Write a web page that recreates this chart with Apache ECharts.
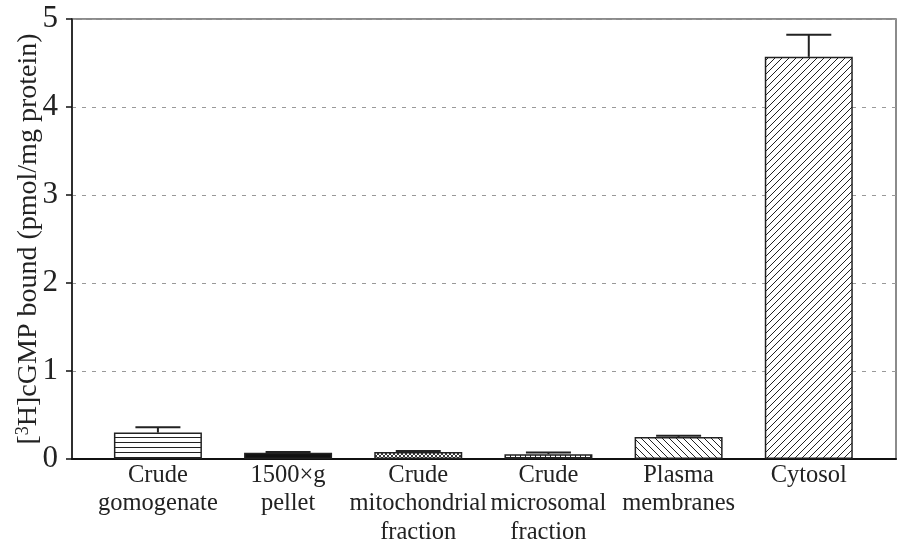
<!DOCTYPE html>
<html>
<head>
<meta charset="utf-8">
<script src="https://cdn.jsdelivr.net/npm/echarts@6/dist/echarts.min.js"></script>
<style>html,body{margin:0;padding:0;background:#fff}#c{width:898px;height:540px}</style>
</head>
<body>
<div id="c"></div>
<script>
const categories = ['Crude\ngomogenate', '1500×g\npellet', 'Crude\nmitochondrial\nfraction', 'Crude\nmicrosomal\nfraction', 'Plasma\nmembranes', 'Cytosol'];
const means = [0.30, 0.07, 0.08, 0.055, 0.25, 4.57];
const errors = [0.06, 0.01, 0.01, 0.02, 0.015, 0.25];
const yTicks = [0, 1, 2, 3, 4, 5];

function tile(w, h, draw) {
  const c = document.createElement('canvas');
  c.width = w; c.height = h;
  const g = c.getContext('2d');
  g.fillStyle = '#fff'; g.fillRect(0, 0, w, h);
  g.strokeStyle = '#222'; g.lineWidth = 1;
  draw(g, w, h);
  return { image: c, repeat: 'repeat' };
}
function ln(g, a, b, c, d) { g.beginPath(); g.moveTo(a, b); g.lineTo(c, d); g.stroke(); }
const patterns = [
  tile(8, 5, (g, w, h) => ln(g, 0, 2.5, w, 2.5)),
  '#111',
  tile(4, 4, (g, w, h) => { g.lineWidth = 0.9; ln(g, -1, -1, 5, 5); ln(g, -1, 5, 5, -1); }),
  tile(5, 4, (g, w, h) => { ln(g, 0.5, 0, 0.5, h); ln(g, 0, 1.5, w, 1.5); }),
  tile(7, 7, (g, w, h) => { ln(g, -1, -1, 8, 8); ln(g, -1, 6, 1, 8); ln(g, 6, -1, 8, 1); }),
  tile(7, 7, (g, w, h) => { ln(g, -1, 8, 8, -1); ln(g, -1, 1, 1, -1); ln(g, 6, 8, 8, 6); })
];

const chart = echarts.init(document.getElementById('c'), null, { renderer: 'canvas' });
const font = 'Liberation Serif';
chart.setOption({
  animation: false,
  grid: { left: 72, right: 2, top: 19, bottom: 81, containLabel: false, outerBoundsMode: 'none', show: true, borderColor: '#666', borderWidth: 1.5, backgroundColor: 'transparent' },
  xAxis: {
    type: 'value', min: -0.66, max: 5.67,
    axisLine: { show: true, onZero: false, lineStyle: { color: '#111', width: 2 } },
    axisTick: { show: false },
    splitLine: { show: false },
    axisLabel: {
      customValues: categories.map((c, i) => i),
      formatter: v => categories[Math.round(v)] || '',
      fontFamily: font, fontSize: 24.5, lineHeight: 28.5, color: '#222', margin: 2,
      showMinLabel: true, showMaxLabel: true, hideOverlap: false
    }
  },
  yAxis: {
    type: 'value', min: 0, max: 5, interval: 1,
    axisLine: { show: true, onZero: false, lineStyle: { color: '#111', width: 1.5 } },
    axisTick: { show: true, length: 6, lineStyle: { color: '#111', width: 1.5 } },
    splitLine: { show: true, lineStyle: { color: '#999', type: [4, 6], width: 1 } },
    axisLabel: { fontFamily: font, fontSize: 31, color: '#222', margin: 14, formatter: v => String(v) },
    name: '[{sup|3}H]cGMP bound (pmol/mg protein)',
    nameLocation: 'middle', nameGap: 28, nameRotate: 90, nameMoveOverlap: false,
    nameTextStyle: {
      fontFamily: font, fontSize: 28, color: '#222', lineHeight: 30,
      rich: { sup: { fontFamily: font, fontSize: 18, color: '#222', verticalAlign: 'top', lineHeight: 30 } }
    }
  },
  series: [
    {
      type: 'bar', barWidth: 88,
      data: means.map((m, i) => ({ value: [i, m], itemStyle: { color: patterns[i] } })),
      itemStyle: { borderColor: '#222', borderWidth: 1.5 }
    },
    {
      type: 'custom', z: 3,
      data: means.map((m, i) => [i, m, errors[i]]),
      renderItem: (params, api) => {
        const x = api.value(0), m = api.value(1), e = api.value(2);
        const p0 = api.coord([x, m]), p1 = api.coord([x, m + e]);
        const st = { stroke: '#222', lineWidth: 2 };
        return {
          type: 'group', children: [
            { type: 'line', shape: { x1: p0[0], y1: p0[1], x2: p1[0], y2: p1[1] }, style: st },
            { type: 'line', shape: { x1: p1[0] - 22.5, y1: p1[1], x2: p1[0] + 22.5, y2: p1[1] }, style: st }
          ]
        };
      }
    }
  ]
});
</script>
</body>
</html>
